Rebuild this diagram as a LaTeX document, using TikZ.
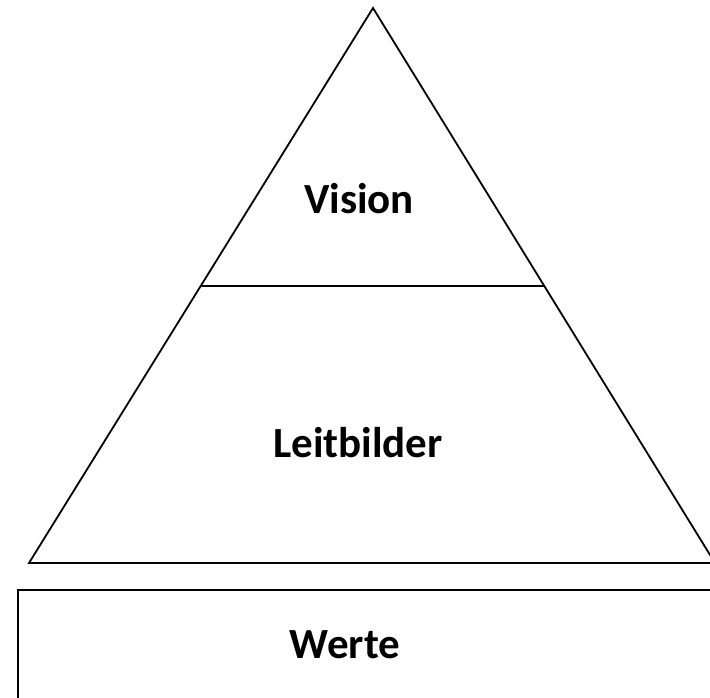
\documentclass[tikz,border=0pt]{standalone}
\usepackage{fontspec}
\setmainfont{Carlito}
\begin{document}
\begin{tikzpicture}[x=1pt,y=-1pt,
  shapeline/.style={draw=black,line width=1.8pt,line join=miter},
  lbl/.style={font=\fontsize{43}{50}\selectfont\bfseries,inner sep=0pt,anchor=base}]
\useasboundingbox (0,0) rectangle (710,697);
\clip (0,0) rectangle (710,697);
\coordinate (apex) at (373,8);
\coordinate (bl) at (29,563);
\coordinate (br) at (715,563);
\coordinate (ml) at (201,286);
\coordinate (mr) at (544,286);
\draw[shapeline] (apex) -- (bl) -- (br) -- cycle;
\draw[shapeline] (ml) -- (mr);
\draw[shapeline] (720,590) -- (18,590) -- (18,710);
\node[lbl] (vision) at (359,213) {Vision};
\node[lbl] (leit) at (358,457) {Leitbilder};
\node[lbl] (werte) at (345,658) {Werte};
\end{tikzpicture}
\end{document}
